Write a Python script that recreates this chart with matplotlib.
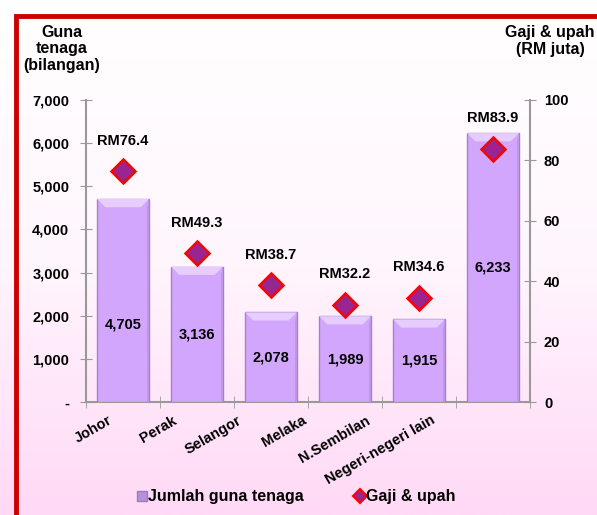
import numpy as np
import matplotlib
matplotlib.use('Agg')
import matplotlib.pyplot as plt
import matplotlib.transforms as mtransforms
from matplotlib.lines import Line2D
from matplotlib.patches import Rectangle, Polygon

plt.rcParams['font.family'] = ['Liberation Sans', 'DejaVu Sans']
plt.rcParams['font.weight'] = 'bold'

# data
negeri = ['Johor', 'Perak', 'Selangor', 'Melaka', 'N.Sembilan', 'Negeri-negeri lain']
guna_tenaga = [4705, 3136, 2078, 1989, 1915, 6233]
gaji_upah = [76.4, 49.3, 38.7, 32.2, 34.6, 83.9]
# where the bar label sits (fraction of bar height)
label_pos = [0.38, 0.5, 0.5, 0.5, 0.5, 0.5]

fig = plt.figure(figsize=(5.97, 5.15), dpi=100)

# background gradient (white -> pink)
bg = fig.add_axes([0, 0, 1, 1], zorder=-10)
grad = np.linspace(0, 1, 256).reshape(-1, 1)
cmap = matplotlib.colors.LinearSegmentedColormap.from_list('bg', ['#ffd9f6', '#fff6fd', '#ffffff'])
bg.imshow(grad, aspect='auto', cmap=cmap, extent=[0, 1, 0, 1], origin='lower')
bg.set_xlim(0, 1)
bg.set_ylim(0, 1)
bg.axis('off')
# red frame on top and left
bg.add_patch(Rectangle((16 / 597, -0.1), 2, (515 - 16) / 515 + 0.1, fill=False,
                       edgecolor='#cc0000', linewidth=3.5, transform=bg.transAxes))

ax = fig.add_axes([86 / 597, (515 - 402) / 515, (530 - 86) / 597, 302 / 515])
ax.patch.set_alpha(0)
x = np.arange(len(negeri))
bars = ax.bar(x, guna_tenaga, width=0.7, color='#d2a6fc', edgecolor='#a77fd0',
              linewidth=1.0, zorder=3)
# lighter bevel at top of each bar
bev_h, bev_w = 190, 0.11
for b in bars:
    x0, x1, top = b.get_x(), b.get_x() + b.get_width(), b.get_height()
    ax.add_patch(Polygon([(x0, top), (x1, top), (x1 - bev_w, top - bev_h), (x0 + bev_w, top - bev_h)],
                         closed=True, facecolor='#e6cdfd', edgecolor='none', zorder=4))
    ax.add_patch(Polygon([(x1, top), (x1, 0), (x1 - 0.03, 0), (x1 - 0.03, top - bev_h)],
                         closed=True, facecolor='#bf96e6', edgecolor='none', zorder=4))
for i, v in enumerate(guna_tenaga):
    ax.text(x[i], v * label_pos[i], f'{v:,}', ha='center', va='center',
            fontsize=10.5, fontweight='bold', zorder=5)

ax.set_xlim(-0.5, len(negeri) - 0.5)
ax.set_ylim(0, 7000)
ax.set_yticks(np.arange(0, 7001, 1000))
ax.set_yticklabels(['-'] + [f'{v:,}' for v in range(1000, 7001, 1000)])
ax.set_xticks(x)
ax.set_xticklabels(negeri, rotation=30, ha='right', rotation_mode='anchor')
ax.set_xticks(np.arange(-0.5, len(negeri)), minor=True)
ax.tick_params(axis='x', which='major', length=0, pad=8, labelsize=10.5)
ax.tick_params(axis='x', which='minor', length=8, direction='inout', color='#999999')
ax.tick_params(axis='y', length=8, direction='inout', color='#999999', labelsize=10.5, pad=8)
# category labels drift left in the original
for i, lab in enumerate(ax.get_xticklabels()):
    dx = -(15 + 9.5 * i) / 100
    lab.set_transform(lab.get_transform() + mtransforms.ScaledTranslation(dx, 0, fig.dpi_scale_trans))
for s in ['top', 'right']:
    ax.spines[s].set_visible(False)
for s in ['left', 'bottom']:
    ax.spines[s].set_color('#999999')
    ax.spines[s].set_linewidth(1.5)

ax2 = ax.twinx()
ax2.set_ylim(0, 100)
ax2.set_yticks(np.arange(0, 101, 20))
ax2.plot(x, gaji_upah, linestyle='none', marker='D', markersize=12,
         markerfacecolor='#9a2590', markeredgecolor='#ff0000', markeredgewidth=1.8, zorder=6)
for i, v in enumerate(gaji_upah):
    ax2.annotate(f'RM{v}', (x[i], v), xytext=(0, 22), textcoords='offset points',
                 ha='center', va='center', fontsize=10.5, fontweight='bold')
ax2.tick_params(axis='y', length=8, direction='inout', color='#999999', labelsize=10.5, pad=6)
for s in ['top', 'left', 'bottom']:
    ax2.spines[s].set_visible(False)
ax2.spines['right'].set_color('#999999')
ax2.spines['right'].set_linewidth(1.5)

fig.text(62 / 597, 1 - 49 / 515, 'Guna\ntenaga\n(bilangan)', ha='center', va='center',
         fontsize=11.5, fontweight='bold', linespacing=1.15)
fig.text(550 / 597, 1 - 41 / 515, 'Gaji & upah\n(RM juta)', ha='center', va='center',
         fontsize=11.5, fontweight='bold', linespacing=1.15)

handles = [
    Line2D([], [], linestyle='none', marker='s', markersize=7, markerfacecolor='#b592d8',
           markeredgecolor='#9a7ac0'),
    Line2D([], [], linestyle='none', marker='D', markersize=7, markerfacecolor='#9a2590',
           markeredgecolor='#ff0000', markeredgewidth=1.5),
]
fig.legend(handles, ['Jumlah guna tenaga', 'Gaji & upah'], loc='center',
           bbox_to_anchor=(295 / 597, 1 - 497 / 515), ncol=2, frameon=False,
           fontsize=11.5, handletextpad=-0.1, columnspacing=3.0, handlelength=1.0)

fig.savefig('out.png', dpi=100)
